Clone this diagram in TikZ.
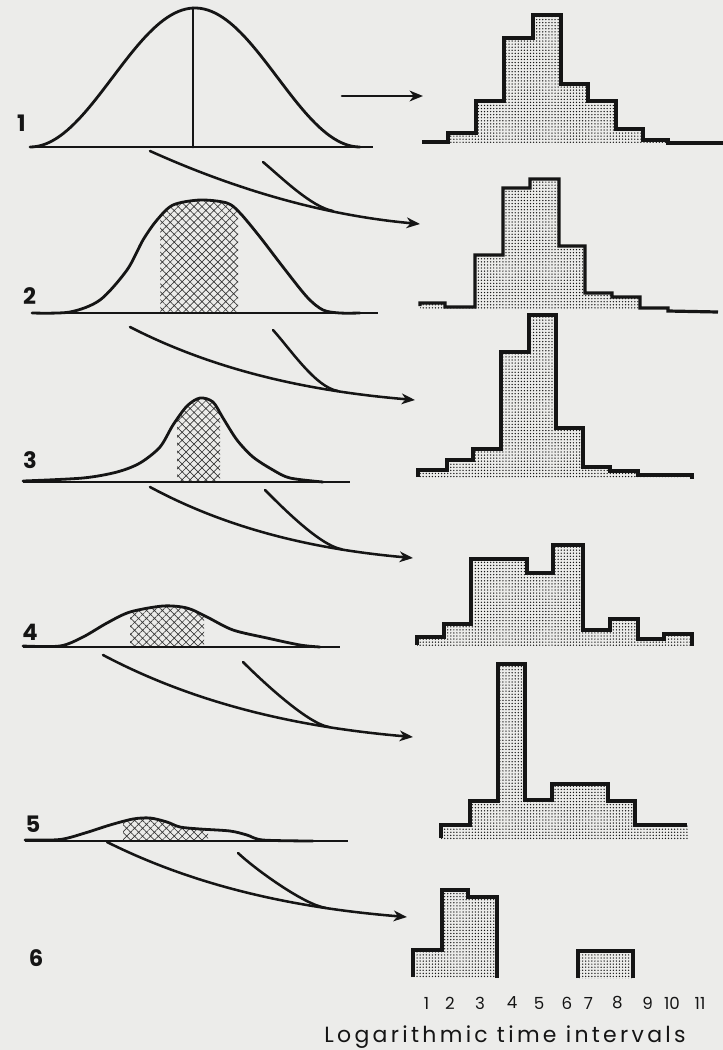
\documentclass[tikz,border=0pt]{standalone}
\usepackage{fontspec}
\setmainfont{Poppins}
\usetikzlibrary{patterns.meta,arrows.meta}
\definecolor{bg}{HTML}{ECECEA}
\definecolor{ink}{HTML}{151515}
\tikzset{
 curve/.style={line width=2.1pt, draw=ink, line join=round, line cap=round},
 axisline/.style={line width=1.2pt, draw=ink},
 hatchfill/.style={pattern={Hatch[angle=45,distance=4.2pt,line width=0.5pt]}, pattern color=ink!85},
 dotfill/.style={pattern={Dots[distance=2.3pt,radius=0.55pt]}, pattern color=ink},
 histline/.style={line width=2.4pt, draw=ink},
 flow/.style={line width=1.9pt, draw=ink, line cap=round},
 flowarrow/.style={flow, -{Stealth[length=10pt,width=8pt,inset=3pt]}},
 rowlabel/.style={font=\fontsize{17}{17}\selectfont\bfseries, text=ink, inner sep=0pt},
 ticklabel/.style={font=\fontsize{12.5}{12.5}\selectfont, text=ink, inner sep=0pt},
 caption/.style={font=\fontsize{16.5}{16.5}\selectfont\addfontfeatures{LetterSpace=15}, text=ink, inner sep=0pt, anchor=base},
}
\begin{document}
\begin{tikzpicture}[x=0.75pt,y=-0.75pt]
\fill[bg] (0,0) rectangle (723,1050);
\useasboundingbox (0,0) rectangle (723,1050);

% ---------- row 1 ----------
\draw[axisline] (35,147) -- (373,147);
\draw[curve] plot[domain=-165:165,samples=90] ({195+\x},{147-69.5*(1+cos(\x*1.0909))});
\draw[curve] (193,8) -- (193,147);
\node[rowlabel] (l1) at (21.5,123) {1};

% ---------- row 2 ----------
\def\curveB{(32,313) (70,312) (100,300) (127,270) (143,240) (157,220) (173,205) (200,200) (227,203) (240,213) (260,237) (283,267) (307,297) (323,310) (340,313) (360,313)}
\begin{scope}
 \clip plot[smooth] coordinates {\curveB} -- cycle;
 \fill[hatchfill] (160,190) rectangle (238,314);
\end{scope}
\draw[axisline] (32,313) -- (378,313);
\draw[curve] plot[smooth] coordinates {\curveB};
\node[rowlabel] (l2) at (29.5,296) {2};

% ---------- row 3 ----------
\def\curveC{(23,481) (83,478) (117,472) (140,463) (160,447) (173,425) (187,406) (200,398) (213,402) (223,418) (237,440) (253,457) (273,470) (290,478) (323,482)}
\begin{scope}
 \clip plot[smooth] coordinates {\curveC} -- cycle;
 \fill[hatchfill] (177,390) rectangle (220,483);
\end{scope}
\draw[axisline] (23,482) -- (350,482);
\draw[curve] plot[smooth] coordinates {\curveC};
\node[rowlabel] (l3) at (30,460) {3};

% ---------- row 4 ----------
\def\curveD{(23,646) (60,646) (83,637) (107,623) (130,612) (163,606) (187,608) (207,617) (233,630) (267,638) (300,645) (320,647)}
\begin{scope}
 \clip plot[smooth] coordinates {\curveD} -- cycle;
 \fill[hatchfill] (130,600) rectangle (204,648);
\end{scope}
\draw[axisline] (23,647) -- (340,647);
\draw[curve] plot[smooth] coordinates {\curveD};
\node[rowlabel] (l4) at (30,632) {4};

% ---------- row 5 ----------
\def\curveE{(25,840) (60,839.5) (85,833) (110,825) (133,819) (150,818) (167,822) (180,827) (200,829) (230,831) (247,835) (263,840) (313,841)}
\begin{scope}
 \clip plot[smooth] coordinates {\curveE} -- cycle;
 \fill[hatchfill] (123,810) rectangle (208,842);
\end{scope}
\draw[axisline] (25,841) -- (348,841);
\draw[curve] plot[smooth] coordinates {\curveE};
\node[rowlabel] (l5) at (33,824) {5};

\node[rowlabel] (l6) at (36,958) {6};

% ---------- histograms ----------
% 1
\fill[dotfill] (448,144) -- (448,133) -- (476,133) -- (476,101) -- (504,101) -- (504,38) -- (533,38) -- (533,15) -- (561,15) -- (561,84) -- (588,84) -- (588,101) -- (616,101) -- (616,129) -- (643,129) -- (643,140) -- (668,140) -- (668,144) -- cycle;
\draw[histline] (422,142) -- (448,142) -- (448,133) -- (476,133) -- (476,101) -- (504,101) -- (504,38) -- (533,38) -- (533,15) -- (561,15) -- (561,84) -- (588,84) -- (588,101) -- (616,101) -- (616,129) -- (643,129) -- (643,140) -- (668,140) -- (668,143) -- (723,143);
% 2
\fill[dotfill] (420,309) -- (420,303) -- (445,303) -- (445,307) -- (475,307) -- (475,255) -- (503,255) -- (503,188) -- (530,188) -- (530,179) -- (559,179) -- (559,246) -- (585,246) -- (585,293) -- (612,293) -- (612,297) -- (640,297) -- (640,309) -- cycle;
\draw[histline] (420,306) -- (420,303) -- (445,303) -- (445,307) -- (475,307) -- (475,255) -- (503,255) -- (503,188) -- (530,188) -- (530,179) -- (559,179) -- (559,246) -- (585,246) -- (585,293) -- (612,293) -- (612,297) -- (640,297) -- (640,308) -- (668,308) -- (668,311) -- (718,312);
% 3
\fill[dotfill] (418,478) -- (418,470) -- (447,470) -- (447,460) -- (473,460) -- (473,449) -- (501,449) -- (501,352) -- (529,352) -- (529,315) -- (556,315) -- (556,428) -- (583,428) -- (583,467) -- (610,467) -- (610,471) -- (638,471) -- (638,475) -- (692,475) -- (692,478) -- cycle;
\draw[histline] (418,477) -- (418,470) -- (447,470) -- (447,460) -- (473,460) -- (473,449) -- (501,449) -- (501,352) -- (529,352) -- (529,315) -- (556,315) -- (556,428) -- (583,428) -- (583,467) -- (610,467) -- (610,471) -- (638,471) -- (638,475) -- (692,475) -- (692,479);
% 4
\fill[dotfill] (417,646) -- (417,637) -- (444,637) -- (444,624) -- (471,624) -- (471,559) -- (527,559) -- (527,573) -- (553,573) -- (553,545) -- (583,545) -- (583,630) -- (610,630) -- (610,619) -- (638,619) -- (638,639) -- (664,639) -- (664,634) -- (692,634) -- (692,646) -- cycle;
\draw[histline] (417,645) -- (417,637) -- (444,637) -- (444,624) -- (471,624) -- (471,559) -- (527,559) -- (527,573) -- (553,573) -- (553,545) -- (583,545) -- (583,630) -- (610,630) -- (610,619) -- (638,619) -- (638,639) -- (664,639) -- (664,634) -- (692,634) -- (692,646);
% 5
\fill[dotfill] (441,840) -- (441,825) -- (470,825) -- (470,801) -- (498,801) -- (498,664) -- (525,664) -- (525,800) -- (552,800) -- (552,784) -- (608,784) -- (608,801) -- (635,801) -- (635,825) -- (689,825) -- (689,840) -- cycle;
\draw[histline] (441,838) -- (441,825) -- (470,825) -- (470,801) -- (498,801) -- (498,664) -- (525,664) -- (525,800) -- (552,800) -- (552,784) -- (608,784) -- (608,801) -- (635,801) -- (635,825) -- (687,825);
% 6
\fill[dotfill] (413,977) -- (413,950) -- (442,950) -- (442,890) -- (468,890) -- (468,897) -- (497,897) -- (497,977) -- cycle;
\draw[histline] (413,977) -- (413,950) -- (442,950) -- (442,890) -- (468,890) -- (468,897) -- (497,897) -- (497,978);
\fill[dotfill] (578,978) -- (578,951) -- (633,951) -- (633,978) -- cycle;
\draw[histline] (578,978) -- (578,951) -- (633,951) -- (633,978);

% ---------- arrows ----------
\coordinate (a0s) at (342,96); \coordinate (a0t) at (423,96);
\draw[flowarrow] (a0s) -- (a0t);

\coordinate (aL) at (150,151); \coordinate (aS) at (263,162); \coordinate (aM) at (333,211); \coordinate (aT) at (420,224);
\draw[flowarrow] (aL) .. controls (231,187.5) and (320,215) .. (aT);
\draw[flow] (aS) .. controls (281,177) and (311,206.8) .. (aM);

\coordinate (bL) at (130,327); \coordinate (bS) at (273,330); \coordinate (bM) at (338,391); \coordinate (bT) at (415,400);
\draw[flowarrow] (bL) .. controls (215.5,370.8) and (309.5,391.2) .. (bT);
\draw[flow] (bS) .. controls (291,350) and (316,387.6) .. (bM);

\coordinate (cL) at (150,487); \coordinate (cS) at (265,490); \coordinate (cM) at (342,549.3); \coordinate (cT) at (413,558);
\draw[flowarrow] (cL) .. controls (229,529.6) and (316,549.5) .. (cT);
\draw[flow] (cS) .. controls (282,507) and (320,545.7) .. (cM);

\coordinate (dL) at (103,655); \coordinate (dS) at (243,662); \coordinate (dM) at (329,727); \coordinate (dT) at (413,737);
\draw[flowarrow] (dL) .. controls (196,704.2) and (298.3,727.2) .. (dT);
\draw[flow] (dS) .. controls (260,679) and (307,723.5) .. (dM);

\coordinate (eL) at (107,842); \coordinate (eS) at (238,853); \coordinate (eM) at (326,908); \coordinate (eT) at (407,917);
\draw[flowarrow] (eL) .. controls (197,887) and (296,908) .. (eT);
\draw[flow] (eS) .. controls (255,869) and (304,904.7) .. (eM);

% ---------- axis numbers and caption ----------
\node[ticklabel] (n1) at (426.5,1003) {1};
\node[ticklabel] (n2) at (450,1003) {2};
\node[ticklabel] (n3) at (480,1003) {3};
\node[ticklabel] (n4) at (512,1003) {4};
\node[ticklabel] (n5) at (539,1003) {5};
\node[ticklabel] (n6) at (567,1003) {6};
\node[ticklabel] (n7) at (588.5,1003) {7};
\node[ticklabel] (n8) at (617.5,1003) {8};
\node[ticklabel] (n9) at (647.5,1003) {9};
\node[ticklabel] (n10) at (672,1003) {10};
\node[ticklabel] (n11) at (700,1003) {11};
\node[caption] (cap) at (505,1042) {Logarithmic time intervals};
\end{tikzpicture}
\end{document}
